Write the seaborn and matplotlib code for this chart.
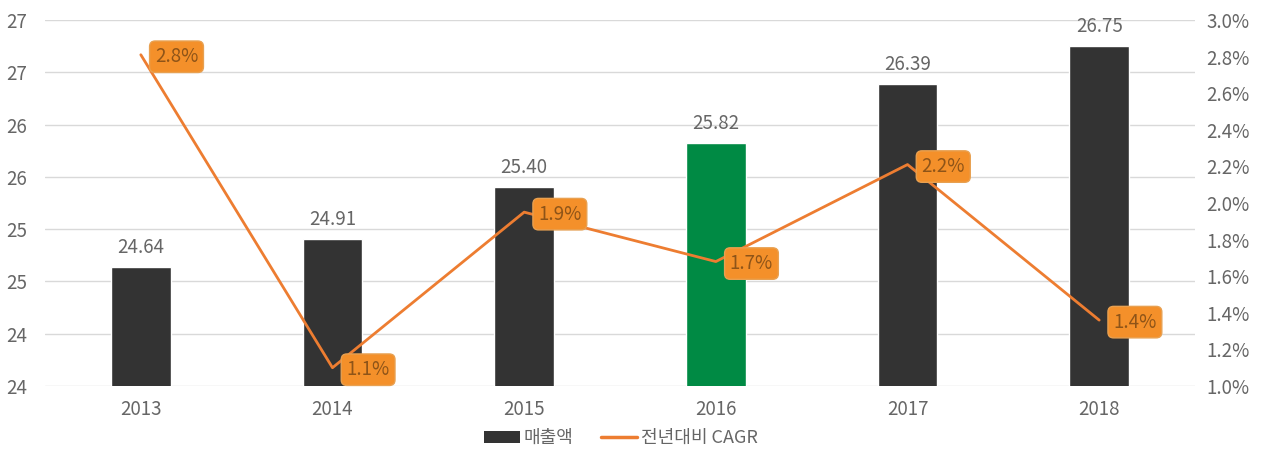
import matplotlib
matplotlib.use("Agg")
import matplotlib.pyplot as plt
import seaborn as sns
import pandas as pd
from matplotlib.patches import Patch
from matplotlib.lines import Line2D

years = ["2013", "2014", "2015", "2016", "2017", "2018"]
sales = [24.64, 24.91, 25.40, 25.82, 26.39, 26.75]
sales_labels = ["24.64", "24.91", "25.40", "25.82", "26.39", "26.75"]
cagr = [2.81, 1.10, 1.95, 1.68, 2.21, 1.36]
cagr_labels = ["2.8%", "1.1%", "1.9%", "1.7%", "2.2%", "1.4%"]
left_ticks = [23.5, 24.0, 24.5, 25.0, 25.5, 26.0, 26.5, 27.0]
left_tick_labels = ["24", "24", "25", "25", "26", "26", "27", "27"]
right_ticks = [1.0, 1.2, 1.4, 1.6, 1.8, 2.0, 2.2, 2.4, 2.6, 2.8, 3.0]
right_tick_labels = ["1.0%", "1.2%", "1.4%", "1.6%", "1.8%", "2.0%", "2.2%", "2.4%", "2.6%", "2.8%", "3.0%"]
legend_labels = ["매출액", "전년대비 CAGR"]

sns.set_theme(style="white")
plt.rcParams['font.family'] = ['Noto Sans CJK KR', 'DejaVu Sans']

BAR = "#333333"
GREEN = "#008A44"
ORANGE = "#ED7D31"
BOX = "#F4902A"
BOXTXT = "#8E5418"
GRAY = "#666666"
FS = 13.5

fig = plt.figure(figsize=(12.67, 4.5), dpi=100)
ax = fig.add_axes([0.0355, 0.1422, 0.9077, 0.8134])

df = pd.DataFrame({"year": years, "sales": sales, "cagr": cagr})
colors = [GREEN if y == "2016" else BAR for y in years]
sns.barplot(data=df, x="year", y="sales", hue="year", palette=colors, legend=False,
            width=0.31, ax=ax, saturation=1)
ax.set_ylim(23.5, 27.0)
ax.set_yticks(left_ticks)
ax.set_yticklabels(left_tick_labels)
ax.set_xlim(-0.5, 5.5)
ax.grid(axis="y", color="#d9d9d9", linewidth=1)
ax.set_axisbelow(True)
for s in ax.spines.values():
    s.set_visible(False)
ax.tick_params(axis="y", length=0, pad=13, labelsize=FS, labelcolor=GRAY)
ax.tick_params(axis="x", length=0, pad=9, labelsize=FS, labelcolor=GRAY)
ax.set_xlabel("")
ax.set_ylabel("")

for i, (v, lab) in enumerate(zip(sales, sales_labels)):
    ax.annotate(lab, (i, v), xytext=(0, 9), textcoords="offset pixels",
                ha="center", va="bottom", fontsize=FS, color=GRAY)

ax2 = ax.twinx()
df2 = pd.DataFrame({"x": list(range(len(years))), "cagr": cagr})
sns.lineplot(data=df2, x="x", y="cagr", color=ORANGE, linewidth=2, ax=ax2)
ax2.set_ylim(1.0, 3.0)
ax2.set_yticks(right_ticks)
ax2.set_yticklabels(right_tick_labels)
ax2.set_xlim(-0.5, 5.5)
for s in ax2.spines.values():
    s.set_visible(False)
ax2.tick_params(axis="y", length=0, pad=8, labelsize=FS, labelcolor=GRAY)
ax2.grid(False)
ax2.set_xlabel("")
ax2.set_ylabel("")

for i, (v, lab) in enumerate(zip(cagr, cagr_labels)):
    ax2.annotate(lab, (i, v), xytext=(14, -2), textcoords="offset pixels",
                 ha="left", va="center", fontsize=FS, color=BOXTXT,
                 bbox=dict(boxstyle="round,pad=0.28,rounding_size=0.3", fc=BOX, ec="#E8A050", lw=1))

handles = [Patch(facecolor=BAR, edgecolor="none"),
           Line2D([0], [0], color=ORANGE, lw=2.5)]
fig.legend(handles, legend_labels, loc="lower center", bbox_to_anchor=(0.49, -0.03),
           ncol=2, frameon=False, fontsize=13, labelcolor=GRAY, handlelength=2.0,
           handletextpad=0.2, columnspacing=1.5, handleheight=0.6)

fig.savefig("out.png", dpi=100, facecolor="white")
